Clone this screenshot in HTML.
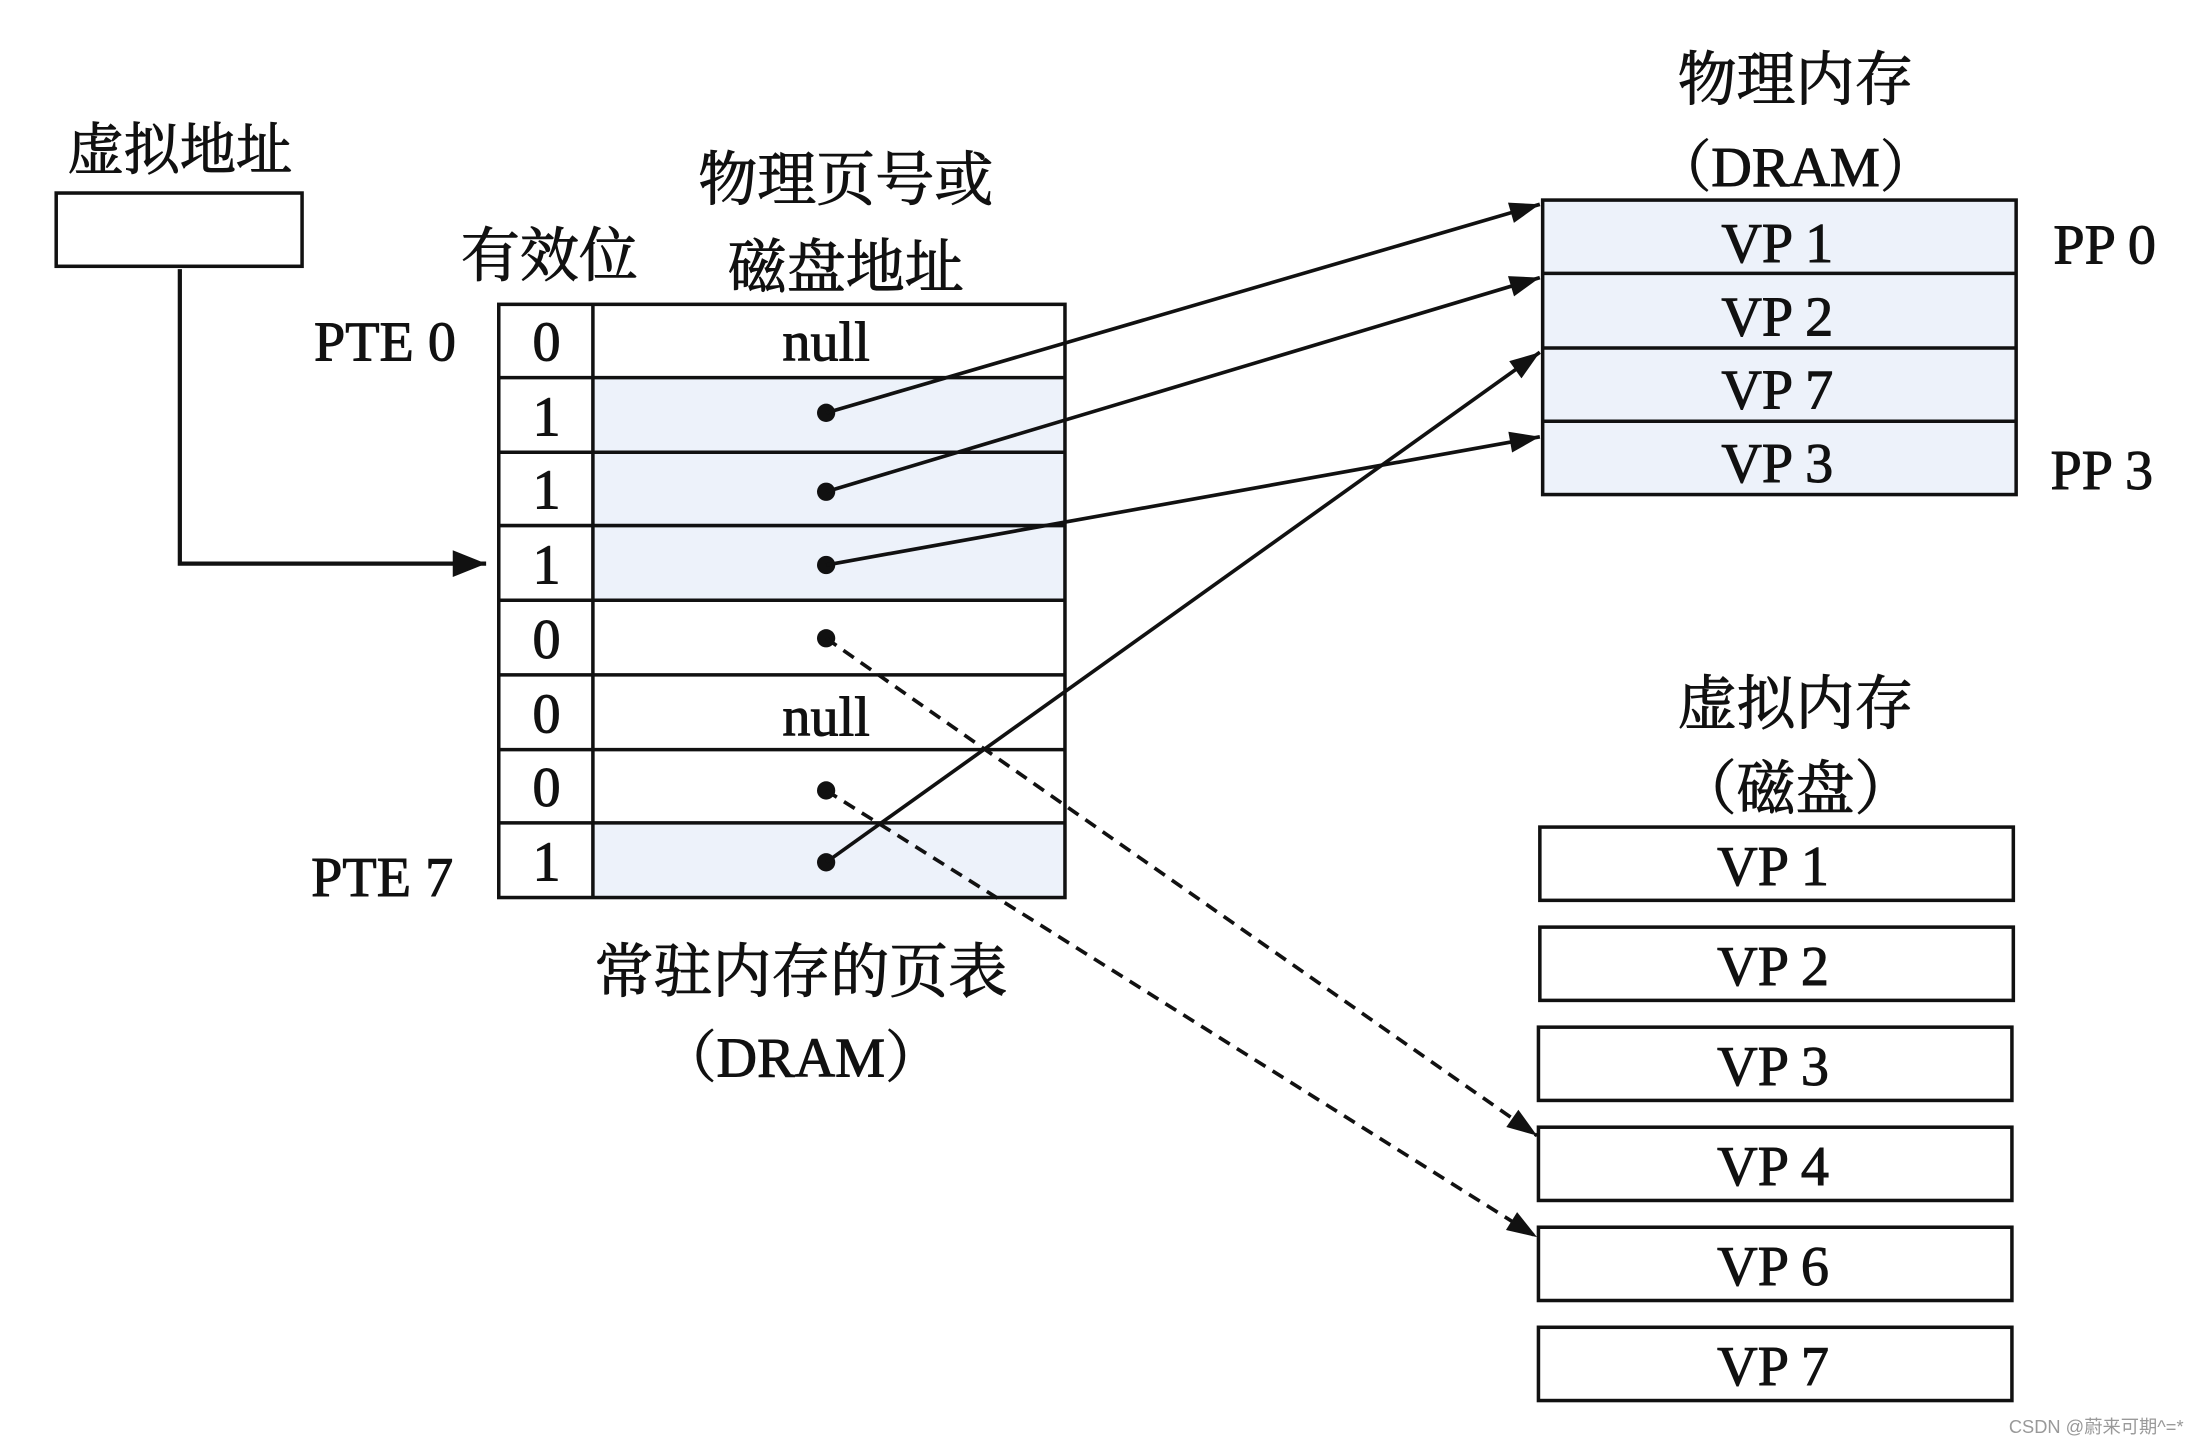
<!DOCTYPE html>
<html><head><meta charset="utf-8"><style>
html,body{margin:0;padding:0;background:#fff;}
svg{display:block;}
text{font-family:"Liberation Serif","Noto Serif CJK SC",serif;fill:#111;stroke:#111;stroke-width:0.7;}
</style></head><body>
<svg width="2203" height="1440" viewBox="0 0 1568 1022" preserveAspectRatio="none" xmlns="http://www.w3.org/2000/svg">
<defs>
<marker id="a" viewBox="0 0 20 14" refX="20" refY="7" markerWidth="22" markerHeight="15" markerUnits="userSpaceOnUse" orient="auto"><path d="M0,0 L20,7 L0,14 z" fill="#111"/></marker>
<marker id="b" viewBox="0 0 20 16" refX="20" refY="8" markerWidth="24" markerHeight="19" markerUnits="userSpaceOnUse" orient="auto"><path d="M0,0 L20,8 L0,16 z" fill="#111"/></marker>
</defs>
<rect width="1568" height="1022" fill="#fff"/>
<g stroke="#111" stroke-width="2.5" fill="none">
<rect x="40" y="137" width="175" height="52"/>
<polyline points="128,191 128,400 346,400" stroke-width="3" marker-end="url(#b)"/>
</g>
<text x="128" y="120" font-size="40" text-anchor="middle">虚拟地址</text>
<g>
<rect x="422" y="268" width="336" height="158" fill="#edf2fa"/>
<rect x="422" y="584" width="336" height="53" fill="#edf2fa"/>
<g stroke="#111" stroke-width="2.5" fill="none">
<rect x="355" y="216" width="403" height="421"/>
<line x1="422" y1="216" x2="422" y2="637"/>
<line x1="355" y1="268" x2="758" y2="268"/>
<line x1="355" y1="321" x2="758" y2="321"/>
<line x1="355" y1="373" x2="758" y2="373"/>
<line x1="355" y1="426" x2="758" y2="426"/>
<line x1="355" y1="479" x2="758" y2="479"/>
<line x1="355" y1="532" x2="758" y2="532"/>
<line x1="355" y1="584" x2="758" y2="584"/>
</g>
<g font-size="40" text-anchor="middle">
<text x="389" y="256">0</text><text x="389" y="309">1</text><text x="389" y="361">1</text><text x="389" y="414">1</text>
<text x="389" y="467">0</text><text x="389" y="520">0</text><text x="389" y="572">0</text><text x="389" y="625">1</text>
<text x="588" y="256">null</text><text x="588" y="522">null</text>
</g>
<g fill="#111"><circle cx="588" cy="293" r="6.5"/><circle cx="588" cy="349" r="6.5"/><circle cx="588" cy="401" r="6.5"/><circle cx="588" cy="453" r="6.5"/><circle cx="588" cy="561" r="6.5"/><circle cx="588" cy="612" r="6.5"/></g>
</g>
<text x="274" y="256" font-size="40" text-anchor="middle">PTE 0</text>
<text x="272" y="636" font-size="40" text-anchor="middle">PTE 7</text>
<text x="391" y="196" font-size="42" text-anchor="middle">有效位</text>
<text x="602" y="142" font-size="42" text-anchor="middle">物理页号或</text>
<text x="602" y="204" font-size="42" text-anchor="middle">磁盘地址</text>
<text x="570" y="704" font-size="42" text-anchor="middle">常驻内存的页表</text>
<text x="570" y="764" font-size="40" text-anchor="middle">（DRAM）</text>
<rect x="1098" y="142" width="337" height="209" fill="#edf2fa"/>
<g stroke="#111" stroke-width="2.5" fill="none">
<rect x="1098" y="142" width="337" height="209"/>
<line x1="1098" y1="194" x2="1435" y2="194"/><line x1="1098" y1="247" x2="1435" y2="247"/><line x1="1098" y1="299" x2="1435" y2="299"/>
</g>
<g font-size="40" text-anchor="middle">
<text x="1265" y="186">VP 1</text><text x="1265" y="238">VP 2</text><text x="1265" y="290">VP 7</text><text x="1265" y="342">VP 3</text>
</g>
<text x="1498" y="187" font-size="40" text-anchor="middle">PP 0</text>
<text x="1496" y="347" font-size="40" text-anchor="middle">PP 3</text>
<text x="1278" y="71" font-size="42" text-anchor="middle">物理内存</text>
<text x="1278" y="132" font-size="40" text-anchor="middle">（DRAM）</text>
<text x="1278" y="514" font-size="42" text-anchor="middle">虚拟内存</text>
<text x="1278" y="574" font-size="42" text-anchor="middle">（磁盘）</text>
<g stroke="#111" stroke-width="2.5" fill="none">
<rect x="1096" y="587" width="337" height="52"/><rect x="1096" y="658" width="337" height="52"/><rect x="1095" y="729" width="337" height="52"/>
<rect x="1095" y="800" width="337" height="52"/><rect x="1095" y="871" width="337" height="52"/><rect x="1095" y="942" width="337" height="52"/>
</g>
<g font-size="40" text-anchor="middle">
<text x="1262" y="628">VP 1</text><text x="1262" y="699">VP 2</text><text x="1262" y="770">VP 3</text>
<text x="1262" y="841">VP 4</text><text x="1262" y="912">VP 6</text><text x="1262" y="983">VP 7</text>
</g>
<g stroke="#111" stroke-width="2.6" fill="none">
<line x1="588" y1="293" x2="1096" y2="145" marker-end="url(#a)"/>
<line x1="588" y1="349" x2="1096" y2="197" marker-end="url(#a)"/>
<line x1="588" y1="401" x2="1096" y2="310" marker-end="url(#a)"/>
<line x1="588" y1="612" x2="1096" y2="250" marker-end="url(#a)"/>
<line x1="588" y1="453" x2="1094" y2="806" stroke-dasharray="9,6" marker-end="url(#a)"/>
<line x1="588" y1="561" x2="1094" y2="878" stroke-dasharray="9,6" marker-end="url(#a)"/>
</g>
<text x="1492" y="1017" font-size="13" text-anchor="middle" style="font-family:'Liberation Sans','Noto Sans CJK SC',sans-serif;fill:#999;stroke:none">CSDN @蔚来可期^=*</text>
</svg>
</body></html>
